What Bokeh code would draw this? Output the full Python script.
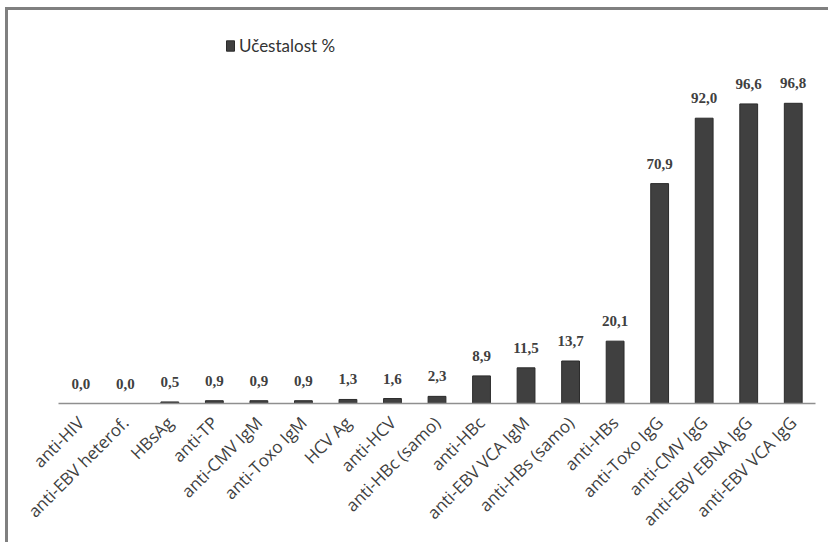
import math
from bokeh.plotting import figure
from bokeh.layouts import column, row
from bokeh.models import ColumnDataSource, LabelSet, FactorRange, Range1d, Div
from bokeh.embed import file_html
from bokeh.resources import INLINE
from bokeh.core.properties import value

categories = ["anti-HIV", "anti-EBV heterof.", "HBsAg", "anti-TP", "anti-CMV IgM",
              "anti-Toxo IgM", "HCV Ag", "anti-HCV", "anti-HBc (samo)", "anti-HBc",
              "anti-EBV VCA IgM", "anti-HBs (samo)", "anti-HBs", "anti-Toxo IgG",
              "anti-CMV IgG", "anti-EBV EBNA IgG", "anti-EBV VCA IgG"]
values = [0.0, 0.0, 0.5, 0.9, 0.9, 0.9, 1.3, 1.6, 2.3, 8.9, 11.5, 13.7, 20.1,
          70.9, 92.0, 96.6, 96.8]
value_labels = [f"{v:.1f}".replace(".", ",") for v in values]
series_name = "Učestalost %"

source = ColumnDataSource(dict(cat=categories, val=values, lab=value_labels))

p = figure(width=820, height=532, output_backend="svg", toolbar_location=None,
           x_range=FactorRange(*categories, range_padding=0),
           y_range=Range1d(0, 123.5),
           y_axis_location=None,
           min_border_left=50, min_border_right=13, min_border_top=10,
           min_border_bottom=139)
p.outline_line_color = None
p.xgrid.visible = False
p.ygrid.visible = False

p.vbar(x="cat", top="val", width=0.4, source=source, fill_color="#404040",
       line_color="#2b2b2b", legend_label=series_name)

labels = LabelSet(x="cat", y="val", text="lab", source=source, y_offset=15,
                  text_align="center", text_baseline="alphabetic",
                  text_font=value("Liberation Serif"), text_font_style="bold",
                  text_font_size="15px", text_color="#404040")
p.add_layout(labels)

ax = p.xaxis[0]
ax.axis_line_color = "#8f8f8f"
ax.axis_line_width = 1.5
ax.major_tick_line_color = None
ax.minor_tick_line_color = None
ax.major_label_orientation = math.pi / 4
ax.major_label_text_font = "Open Sans"
ax.major_label_text_font_size = "17px"
ax.major_label_text_color = "#404040"
ax.major_label_standoff = 10

lg = p.legend[0]
lg.location = (167, 347)
lg.orientation = "horizontal"
lg.border_line_color = None
lg.background_fill_alpha = 0
lg.padding = 0
lg.margin = 0
lg.glyph_width = 10
lg.glyph_height = 13
lg.label_standoff = 4
lg.label_text_font = "Lato"
lg.label_text_font_size = "17px"
lg.label_text_color = "#333333"

top_bar = Div(text="", width=823, height=3, margin=0,
              styles={"background-color": "#808080", "overflow": "hidden"})
left_bar = Div(text="", width=3, height=532, margin=0,
               styles={"background-color": "#808080", "overflow": "hidden"})
layout = column(top_bar, row(left_bar, p, spacing=0), spacing=0,
                styles={"margin-left": "5px", "margin-top": "7px"})

open("out.html", "w").write(file_html(layout, INLINE))
